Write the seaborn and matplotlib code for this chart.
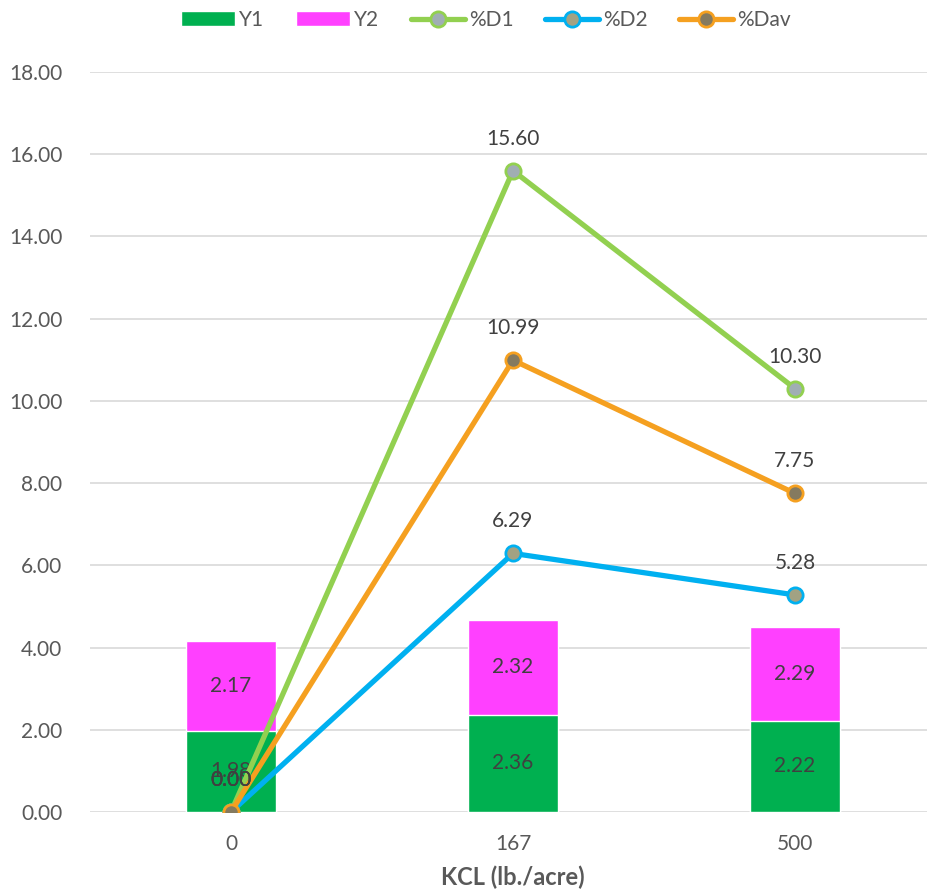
import matplotlib
matplotlib.use("Agg")
import matplotlib.pyplot as plt
import seaborn as sns
import numpy as np
import pandas as pd

categories = ["0", "167", "500"]
y1 = [1.98, 2.36, 2.22]
y2 = [2.17, 2.32, 2.29]
d1 = [0.00, 15.60, 10.30]
d2 = [0.00, 6.29, 5.28]
dav = [0.00, 10.99, 7.75]
y_ticks = [0, 2, 4, 6, 8, 10, 12, 14, 16, 18]

sns.set_theme(style="white")
plt.rcParams["font.family"] = ["Lato", "DejaVu Sans"]

fig = plt.figure(figsize=(9.28, 8.92), dpi=100)
ax = fig.add_axes([90 / 928, 1 - 812 / 892, 846 / 928, 740 / 892])

totals = [a + b for a, b in zip(y1, y2)]
df = pd.DataFrame({"cat": categories, "Y1": y1, "Y2": y2, "total": totals})

sns.barplot(data=df, x="cat", y="total", color="#FF40FF", saturation=1, width=0.32, ax=ax, label="Y2", zorder=2)
sns.barplot(data=df, x="cat", y="Y1", color="#00B050", saturation=1, width=0.32, ax=ax, label="Y1", zorder=2)

txt_col = "#404040"
for i in range(len(categories)):
    ax.text(i, y1[i] / 2, f"{y1[i]:.2f}", ha="center", va="center", fontsize=15, color=txt_col, zorder=3)
    ax.text(i, y1[i] + y2[i] / 2, f"{y2[i]:.2f}", ha="center", va="center", fontsize=15, color=txt_col, zorder=3)

xs = np.arange(len(categories))
series = [("%D1", d1, "#92D050", "#A0AEB4"),
          ("%D2", d2, "#00B0F0", "#A2A283"),
          ("%Dav", dav, "#F5A020", "#857A5F")]
for name, vals, col, mfc in series:
    sns.lineplot(x=xs, y=vals, color=col, lw=3.8, marker="o", markersize=11,
                 markerfacecolor=mfc, markeredgecolor=col, markeredgewidth=2,
                 ax=ax, label=name, zorder=4)
    for xi, v in zip(xs, vals):
        ax.annotate(f"{v:.2f}", (xi, v), xytext=(0, 23), textcoords="offset points",
                    ha="center", va="center", fontsize=15, color=txt_col, zorder=5)

ax.set_ylim(0, 18)
ax.set_xlim(-0.5, 2.5)
ax.set_yticks(y_ticks)
ax.set_yticklabels([f"{t:.2f}" for t in y_ticks])
ax.grid(axis="y", color="#D9D9D9", lw=1.2, zorder=0)
ax.set_axisbelow(True)
for s in ax.spines.values():
    s.set_visible(False)
ax.tick_params(axis="both", length=0, labelsize=15, labelcolor="#595959")
ax.tick_params(axis="y", pad=20)
ax.tick_params(axis="x", pad=16)
ax.set_xlabel("KCL (lb./acre)", fontsize=17, fontweight="bold", color="#595959", labelpad=8)
ax.set_ylabel("")

handles, labels = ax.get_legend_handles_labels()
order = ["Y1", "Y2", "%D1", "%D2", "%Dav"]
hmap = dict(zip(labels, handles))
ax.legend([hmap[k] for k in order], order, loc="center", bbox_to_anchor=(486 / 928, 1 - 20 / 892),
          bbox_transform=fig.transFigure, ncol=5, frameon=False, fontsize=15,
          labelcolor="#595959", handlelength=2.6, handletextpad=0.2, columnspacing=1.5)

fig.savefig("out.png", dpi=100)
